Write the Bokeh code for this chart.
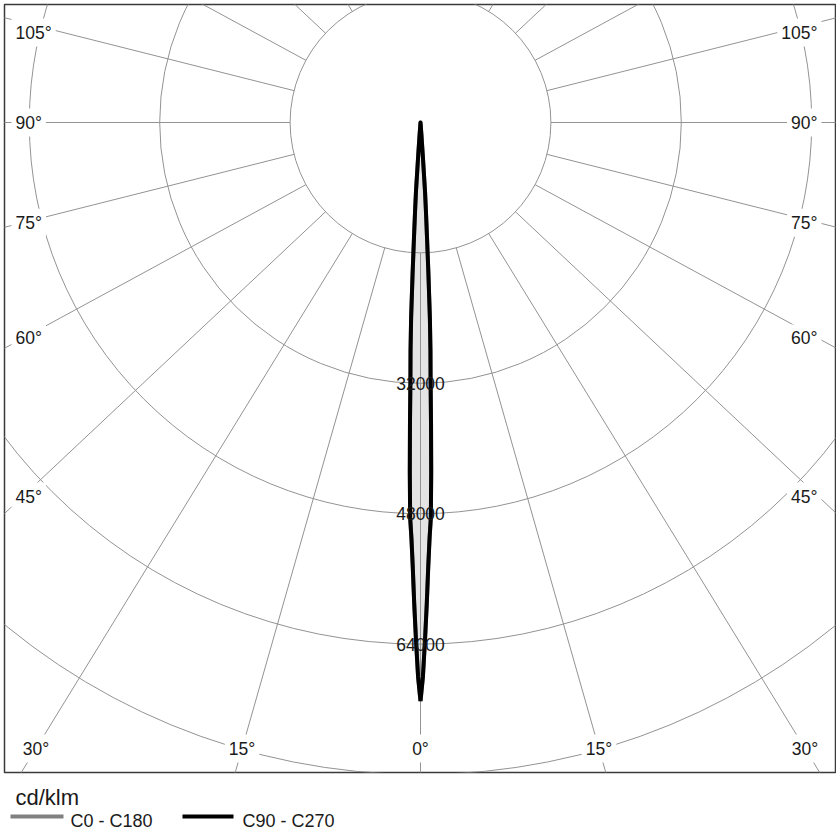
import numpy as np
from bokeh.plotting import figure
from bokeh.layouts import column
from bokeh.models import Range1d
from bokeh.core.properties import value
from bokeh.embed import file_html
from bokeh.resources import INLINE

# ---------------- data ----------------
gamma_deg = [0, 0.25, 0.5, 0.75, 1.0, 1.25, 1.5, 1.75, 2.0, 2.25, 2.5,
             2.75, 3.0, 3.25, 3.5, 3.75, 4.0, 4.25, 4.5]
c0_c180 = [71000, 68000, 63500, 59000, 54500, 51000, 48500, 43000, 37000,
           31500, 28000, 24000, 18500, 14000, 11000, 8500, 4000, 1500, 0]
c90_c270 = [71000, 68000, 63500, 59000, 54500, 51000, 48500, 43000, 37000,
            31500, 28000, 24000, 18500, 14000, 11000, 8500, 4000, 1500, 0]
ring_values = [16000, 32000, 48000, 64000, 80000]
ring_label_values = [32000, 48000, 64000]
ray_angles = [0, 15, 30, 45, 60, 75, 90, 105, 120, 135, 150, 165, 180]
edge_label_angles = [45, 60, 75, 90, 105]
bottom_label_angles = [0, 15, 30]
unit_label = "cd/klm"
series_names = ["C0 - C180", "C90 - C270"]

# ---------------- layout / style ----------------
FONT = value("Liberation Sans")
GRID = "#939393"
TXT = "#1a1a1a"
PX_PER_CD = 130.4 / 16000.0
CX, CY = 420.0, 122.0          # screen position of the pole
K = 0.94                        # vertical squeeze of the angle rays in the original
FL, FT, FR, FB = 4, 4, 835, 772  # frame box on screen


def dx(px):
    return (px - CX) / PX_PER_CD


def dy(py):
    return -(py - CY) / PX_PER_CD


top = figure(frame_width=FR - FL, frame_height=FB - FT,
             min_border_left=FL, min_border_top=FT, min_border_right=1,
             min_border_bottom=4,
             x_range=Range1d(dx(FL), dx(FR)), y_range=Range1d(dy(FB), dy(FT)),
             output_backend="svg", toolbar_location=None,
             x_axis_type=None, y_axis_type=None)
top.outline_line_color = "#3a3a3a"
top.outline_line_width = 1.5
top.background_fill_color = "white"
top.border_fill_color = "white"

# curve polygon (symmetric both halves)
g = np.radians(np.array(gamma_deg))
Ia = np.array(c0_c180, dtype=float)
Ib = np.array(c90_c270, dtype=float)
xa, ya = Ia * np.sin(g), -Ia * np.cos(g)
xb, yb = Ib * np.sin(g), -Ib * np.cos(g)
xs_a = np.concatenate([xa, -xa[::-1]])
ys_a = np.concatenate([ya, ya[::-1]])
xs_b = np.concatenate([xb, -xb[::-1]])
ys_b = np.concatenate([yb, yb[::-1]])

top.patch(xs_b, ys_b, fill_color="#e4e4e4", line_color=None)

# rings
top.circle(x=[0] * len(ring_values), y=[0] * len(ring_values), radius=ring_values,
           fill_color=None, line_color=GRID, line_width=1)

# rays
r0 = ring_values[0]
far = 200000.0
rx, ry = [], []
for sign in (1, -1):
    for a in ray_angles:
        if sign == -1 and a in (0, 180):
            continue
        ar = np.radians(a)
        d = np.array([sign * np.sin(ar), -K * np.cos(ar)])
        n = d / np.hypot(*d)
        rx.append([r0 * n[0], far * n[0]])
        ry.append([r0 * n[1], far * n[1]])
top.multi_line(rx, ry, line_color=GRID, line_width=1)

# curves
top.line(xs_a, ys_a, line_color="#808080", line_width=4, line_join="round")
top.line(xs_b, ys_b, line_color="black", line_width=4, line_join="round")

# ring labels
top.text(x=[0] * len(ring_label_values), y=[-v for v in ring_label_values],
         text=[str(v) for v in ring_label_values], text_font=FONT,
         text_font_size="17.5px", text_color=TXT, text_align="center",
         text_baseline="middle")

# angle labels on the side edges (placed on their ray, kept clear of the top edge)
y_top_limit = dy(FT + 28)
lx, ly, ltxt = [], [], []
rxl, ryl, rtxt = [], [], []
for a in edge_label_angles:
    ar = np.radians(a)
    t = -dx(22) / np.sin(ar)
    yl = min(-K * np.cos(ar) * t, y_top_limit)
    lx.append(dx(11)); ly.append(yl); ltxt.append(f"{a}°")
    t = dx(818) / np.sin(ar)
    yr = min(-K * np.cos(ar) * t, y_top_limit)
    rxl.append(dx(821)); ryl.append(yr); rtxt.append(f"{a}°")
lab_kw = dict(text_font=FONT, text_font_size="17.5px", text_color=TXT,
              text_baseline="middle", background_fill_color="white", padding=4)
top.text(x=lx, y=ly, text=ltxt, text_align="left", **lab_kw)
top.text(x=rxl, y=ryl, text=rtxt, text_align="right", **lab_kw)

# angle labels along the bottom edge
bx, by, btxt = [], [], []
ybot = dy(748)
for a in bottom_label_angles:
    ar = np.radians(a)
    t = -ybot / (K * np.cos(ar))
    for sign in (-1, 1):
        if a == 0 and sign == 1:
            continue
        bx.append(sign * np.sin(ar) * t); by.append(ybot); btxt.append(f"{a}°")
top.text(x=bx, y=by, text=btxt, text_align="center", **lab_kw)

# ---------------- legend strip ----------------
LT = FB + 4
LW, LH = FR + 1, 840 - LT
leg = figure(frame_width=LW - FL, frame_height=LH,
             min_border_left=FL, min_border_right=0, min_border_top=0,
             min_border_bottom=0,
             x_range=Range1d(FL, LW), y_range=Range1d(840, LT),
             output_backend="svg", toolbar_location=None,
             x_axis_type=None, y_axis_type=None)
leg.outline_line_color = None
leg.background_fill_color = "white"
leg.border_fill_color = "white"
leg.text(x=[15], y=[797], text=[unit_label], text_font=FONT, text_font_size="22px",
         text_color=TXT, text_align="left", text_baseline="middle")
leg.segment(x0=[10, 182], y0=[816, 816], x1=[63, 233], y1=[816, 816],
            line_color=["#808080", "black"], line_width=4)
leg.text(x=[70, 242], y=[820, 820], text=series_names, text_font=FONT,
         text_font_size="18px", text_color=TXT, text_align="left",
         text_baseline="middle")

layout = column(top, leg, spacing=0)
open("out.html", "w").write(file_html(layout, INLINE))
